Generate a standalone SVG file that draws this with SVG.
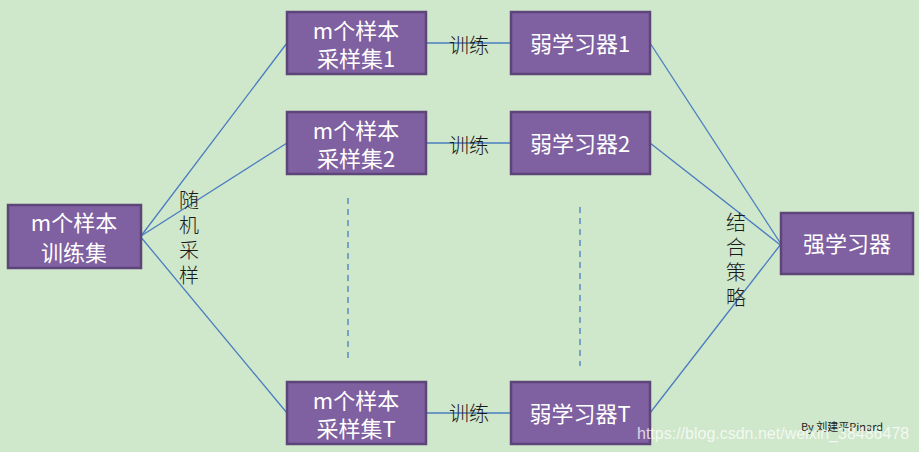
<svg xmlns="http://www.w3.org/2000/svg" width="919" height="452" viewBox="0 0 919 452">
<style>
.box{fill:#7f60a0;stroke:#5e4579;stroke-width:2.5}
.bt{fill:#ffffff;font-family:"Noto Sans CJK SC","Noto Sans",sans-serif;font-size:22px;text-anchor:middle}
.lbl{fill:#1a1a1a;font-family:"Noto Sans CJK SC",sans-serif;font-size:20px;font-weight:300;text-anchor:middle}
.vl{writing-mode:vertical-rl;letter-spacing:5px}
.ln{stroke:#4a7cc0;stroke-width:1.3;fill:none}
.dash{stroke:#4a7cc0;stroke-width:1.3;stroke-dasharray:6 5;fill:none}
</style>
<rect width="919" height="452" fill="#cfe7cb"/>
<g id="connectors">
<line class="ln" x1="141" y1="236" x2="287" y2="43"/>
<line class="ln" x1="141" y1="236" x2="287" y2="143"/>
<line class="ln" x1="125" y1="218" x2="287" y2="413"/>
<line class="ln" x1="426" y1="43" x2="511" y2="43"/>
<line class="ln" x1="426" y1="143" x2="511" y2="143"/>
<line class="ln" x1="426" y1="413" x2="511" y2="413"/>
<line class="ln" x1="650" y1="43" x2="781" y2="244"/>
<line class="ln" x1="650" y1="143" x2="797" y2="258"/>
<line class="ln" x1="650" y1="413" x2="781" y2="244"/>
<line class="dash" x1="348" y1="198" x2="348" y2="358"/>
<line class="dash" x1="580" y1="207" x2="580" y2="366"/>
</g>
<g id="train-set"><rect class="box" x="8" y="205" width="133" height="63"/><text class="bt" x="74" y="231">m个样本<tspan x="74" y="261">训练集</tspan></text></g>
<g id="sample1"><rect class="box" x="287" y="12" width="139" height="62"/><text class="bt" x="356" y="39">m个样本<tspan x="356" y="67">采样集1</tspan></text></g>
<g id="sample2"><rect class="box" x="287" y="112" width="139" height="62"/><text class="bt" x="356" y="139">m个样本<tspan x="356" y="167">采样集2</tspan></text></g>
<g id="sampleT"><rect class="box" x="287" y="382" width="139" height="62"/><text class="bt" x="356" y="409">m个样本<tspan x="356" y="437">采样集T</tspan></text></g>
<g id="weak1"><rect class="box" x="511" y="12" width="139" height="62"/><text class="bt" x="580" y="52">弱学习器1</text></g>
<g id="weak2"><rect class="box" x="511" y="112" width="139" height="62"/><text class="bt" x="580" y="152">弱学习器2</text></g>
<g id="weakT"><rect class="box" x="511" y="382" width="139" height="62"/><text class="bt" x="580" y="422">弱学习器T</text></g>
<g id="strong"><rect class="box" x="781" y="213" width="132" height="61"/><text class="bt" x="847" y="252">强学习器</text></g>
<g id="labels">
<text class="lbl" x="469" y="53">训练</text>
<text class="lbl" x="469" y="153">训练</text>
<text class="lbl" x="469" y="421">训练</text>
<text class="lbl vl" x="189" y="190" style="text-anchor:start">随机采样</text>
<text class="lbl vl" x="736" y="212" style="text-anchor:start">结合策略</text>
<text x="801" y="431" style="fill:#222;font-family:'Noto Sans CJK SC','Noto Sans',sans-serif;font-size:11px">By 刘建平Pinard</text>
<text x="637" y="439" style="fill:#ffffff;fill-opacity:0.75;font-family:'Liberation Sans',Arial,sans-serif;font-size:16px">https://blog.csdn.net/weixin_38486478</text>
</g>
</svg>
